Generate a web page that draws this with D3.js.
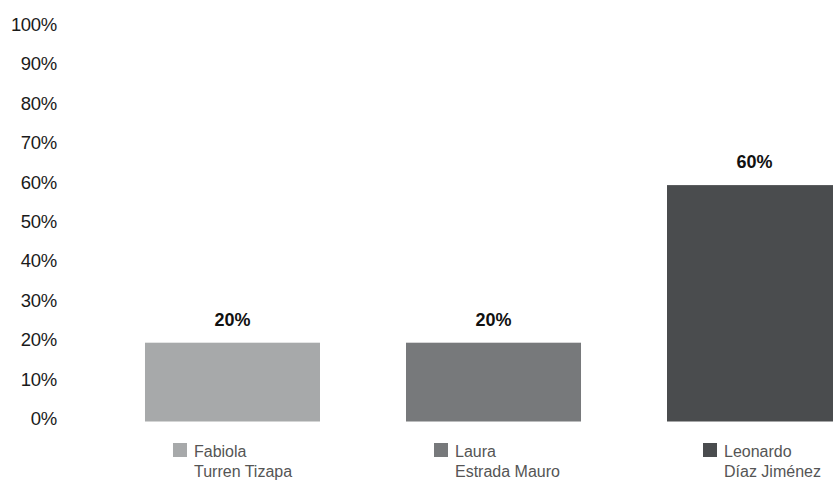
<!DOCTYPE html>
<html><head><meta charset="utf-8">
<script src="https://cdn.jsdelivr.net/npm/d3@7"></script>
<style>html,body{margin:0;padding:0;background:#fff;overflow:hidden}svg{display:block;font-family:"Liberation Sans",Arial,sans-serif}</style>
</head><body><svg id="c" width="833" height="480"></svg>
<script>
const names = [["Fabiola","Turren Tizapa"],["Laura","Estrada Mauro"],["Leonardo","Díaz Jiménez"]];
const values = [0.20, 0.20, 0.60];
const colors = ["#a7a9aa", "#77797b", "#4a4c4e"];
const ticks = [0,0.1,0.2,0.3,0.4,0.5,0.6,0.7,0.8,0.9,1.0];

const svg = d3.select("#c");
const y = d3.scaleLinear().domain([0,1]).range([421.5, 27.5]);
const x = d3.scaleBand().domain(d3.range(values.length)).range([58, 929]).paddingInner(0.3295).paddingOuter(0.3333);

// y axis labels
const fmt = d3.format(".0%");
svg.append("g").selectAll("text").data(ticks).join("text")
  .attr("x", 57).attr("y", d => y(d) + 3.5)
  .attr("text-anchor", "end").attr("font-size", 18.5).attr("fill", "#1a1a1a")
  .attr("letter-spacing", -0.3)
  .text(d => fmt(d));

// bars
svg.append("g").selectAll("rect").data(values).join("rect")
  .attr("x", (d,i) => x(i)).attr("width", x.bandwidth())
  .attr("y", d => y(d)).attr("height", d => y(0) - y(d))
  .attr("fill", (d,i) => colors[i]);

// value labels
svg.append("g").selectAll("text").data(values).join("text")
  .attr("x", (d,i) => x(i) + x.bandwidth()/2).attr("y", d => y(d) - 17)
  .attr("text-anchor", "middle").attr("font-size", 18).attr("font-weight", "bold").attr("fill", "#111")
  .text(d => fmt(d));

// legend
const legOff = [28, 28, 36];
const lg = svg.append("g").selectAll("g").data(names).join("g")
  .attr("transform", (d,i) => `translate(${x(i) + legOff[i]},443)`);
lg.append("rect").attr("width", 14).attr("height", 14).attr("fill", (d,i) => colors[i]);
lg.append("text").attr("x", 21).attr("y", 14).attr("font-size", 16).attr("fill", "#555")
  .text(d => d[0]);
lg.append("text").attr("x", 21).attr("y", 34).attr("font-size", 16).attr("fill", "#555")
  .text(d => d[1]);
</script></body></html>
